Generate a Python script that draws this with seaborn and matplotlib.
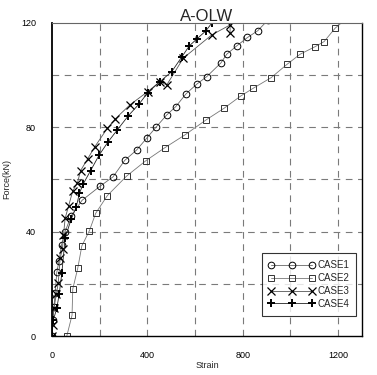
import numpy as np
import pandas as pd
import matplotlib
matplotlib.use("Agg")
import matplotlib.pyplot as plt
import seaborn as sns

# === Data (strain, force in kN) ===
case1_strain = [0, 3, 8, 13, 20, 29, 40, 55, 80, 126, 200, 256, 305, 355, 397, 436,
                481, 519, 562, 607, 649, 708, 733, 775, 820, 863, 905]
case1_force = [0, 6, 11, 16.4, 24.4, 28.6, 35, 40, 46, 52, 57.3, 61, 67.3, 71.3, 75.8, 80,
               84.7, 87.9, 92.8, 96.5, 99.4, 104.6, 108, 111.2, 114.4, 117, 121]

case2_strain = [62, 84, 87, 108, 125, 157, 183, 232, 313, 394, 474, 558, 646, 722,
                792, 845, 919, 987, 1041, 1104, 1141, 1188, 1240]
case2_force = [0, 8, 18, 26, 34.5, 40.4, 47, 53.8, 61.3, 67.2, 72.2, 77.1, 82.8, 87.3,
               92, 95, 99, 104.2, 108, 110.9, 112.8, 118, 122]

case3_strain = [0, 2, 8, 18, 26, 34, 44, 48, 55, 70, 87, 106, 120, 150, 180, 232, 264,
                327, 402, 453, 481, 551, 670, 747, 747]
case3_force = [0, 4.2, 10.6, 16, 20.2, 29.8, 33.5, 38.7, 45.1, 50, 55.6, 58.5, 63.4, 68,
               72.6, 79.6, 83.1, 88.6, 93.7, 97.5, 96.2, 106.5, 115.4, 119.2, 116]

case4_strain = [0, 5, 20, 30, 41, 55, 80, 101, 115, 131, 162, 198, 236, 274, 320, 366,
                402, 453, 502, 544, 576, 607, 645, 670]
case4_force = [0, 6, 10.6, 16, 24, 37.5, 44.7, 49.3, 54.7, 58.3, 63.4, 69.4, 74.5, 79,
               84.4, 89, 93.3, 97.5, 101.3, 106.9, 111.2, 113.8, 116.9, 119.9]

cases = ["CASE1", "CASE2", "CASE3", "CASE4"]
strains = [case1_strain, case2_strain, case3_strain, case4_strain]
forces = [case1_force, case2_force, case3_force, case4_force]

# === Style per case ===
styles = {
    "CASE1": dict(marker="o", mfc="none", mec="black", ms=4.8, color="#666666", lw=0.6, mew=0.7),
    "CASE2": dict(marker="s", mfc="none", mec="#333333", ms=4.4, color="#777777", lw=0.6, mew=0.7),
    "CASE3": dict(marker="x", mfc="none", mec="black", ms=5.2, color="#555555", lw=0.6, mew=0.9),
    "CASE4": dict(marker="+", mfc="none", mec="black", ms=6, color="#222222", lw=0.6, mew=1.4),
}

sns.set_style("white")
plt.rcParams["font.family"] = ["Liberation Sans", "DejaVu Sans"]

fig = plt.figure(figsize=(3.77, 3.75), dpi=100)
ax = fig.add_axes([0.138, 0.104, 0.822, 0.835])

for name, xs, ys in zip(cases, strains, forces):
    df = pd.DataFrame({"Strain": xs, "Force": ys})
    sns.lineplot(data=df, x="Strain", y="Force", sort=False, estimator=None,
                 ax=ax, label=name, **styles[name])

ax.set_xlim(0, 1300)
ax.set_ylim(0, 120)
ax.set_xticks([0, 400, 800, 1200])
ax.set_yticks([0, 40, 80, 120])
ax.set_xticks([200, 600, 1000], minor=True)
ax.set_yticks([20, 60, 100], minor=True)

for v in [200, 400, 600, 800, 1000, 1200]:
    ax.axvline(v, color="#7a7a7a", ls=(0, (6, 5)), lw=0.8, zorder=0)
for v in [20, 40, 60, 80, 100]:
    ax.axhline(v, color="#7a7a7a", ls=(0, (6, 5)), lw=0.8, zorder=0)

ax.tick_params(axis="both", which="major", direction="inout", length=7, width=0.7,
               labelsize=6.5, colors="black", pad=3)
ax.tick_params(axis="both", which="minor", direction="out", length=0)
ax.tick_params(axis="x", which="major", pad=7)
ax.tick_params(axis="y", which="major", pad=8)

for side in ["left", "bottom", "right", "top"]:
    ax.spines[side].set_visible(True)
    ax.spines[side].set_color("black")
ax.spines["left"].set_linewidth(1.3)
ax.spines["bottom"].set_linewidth(1.0)
ax.spines["right"].set_linewidth(1.0)
ax.spines["top"].set_linewidth(0.8)
ax.spines["top"].set_color("#666666")

ax.set_title("A-OLW", fontsize=12, pad=1)
ax.set_xlabel("Strain", fontsize=6.5, labelpad=1)
ax.set_ylabel("Force(kN)", fontsize=6.5, labelpad=7)

leg = ax.legend(loc="lower right", bbox_to_anchor=(0.98, 0.065), numpoints=3,
                handlelength=4.8, fontsize=7, frameon=True, fancybox=False,
                borderpad=0.7, labelspacing=0.3, handletextpad=0.2, borderaxespad=0)
leg.get_frame().set_edgecolor("black")
leg.get_frame().set_linewidth(0.8)

plt.savefig("out.png", dpi=100)
